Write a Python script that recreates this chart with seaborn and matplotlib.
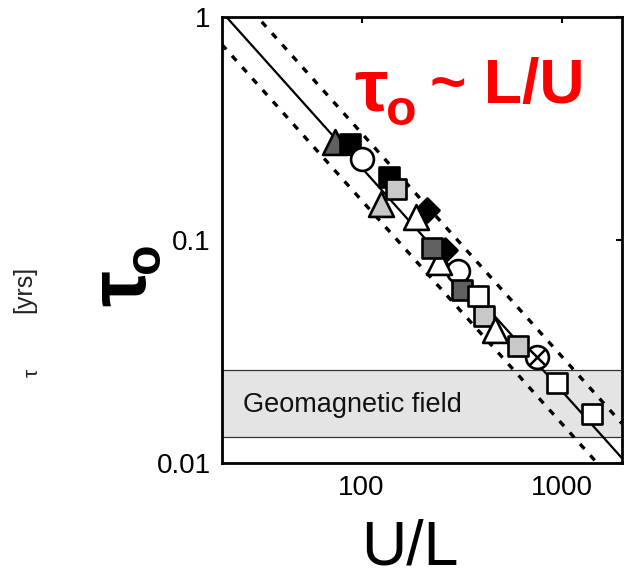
import matplotlib
matplotlib.use("Agg")
import matplotlib.pyplot as plt
import seaborn as sns
import numpy as np
import pandas as pd

# ---- data ----
ratio = [74, 88, 100, 137, 149, 125, 213, 188, 226, 260, 245, 303, 317, 381, 409, 465, 607, 757, 944, 1419]
tau = [0.273, 0.267, 0.229, 0.190, 0.168, 0.144, 0.136, 0.126, 0.092, 0.090, 0.079, 0.0726,
       0.0596, 0.0561, 0.0456, 0.0394, 0.0334, 0.0298, 0.0228, 0.0166]
shape = ["^", "s", "o", "s", "s", "^", "D", "^", "s", "D", "^", "o",
         "s", "s", "s", "^", "s", "o", "s", "s"]
fill = ["dark", "black", "white", "black", "light", "light", "black", "white", "dark", "black", "white", "white",
        "dark", "white", "light", "white", "light", "white", "white", "white"]
fit_coef = [21]          # tau = C / (U/L), solid
band_coef = [15, 30]     # dashed bounds
geo_band = [0.013, 0.026]
xticks = [100, 1000]
yticks = [0.01, 0.1, 1]
ytick_labels = ["0.01", "0.1", "1"]
xtick_labels = ["100", "1000"]

colors = {"dark": "#606060", "black": "#000000", "white": "#ffffff", "light": "#c8c8c8"}
sizes = {"s": 200, "o": 270, "^": 320, "D": 150}

df = pd.DataFrame({"ratio": ratio, "tau": tau, "shape": shape, "fill": fill})

sns.set_style("white")
plt.rcParams["font.family"] = ["Liberation Sans", "DejaVu Sans"]
plt.rcParams["text.color"] = "black"

fig = plt.figure(figsize=(6.3, 5.79), dpi=100)
ax = fig.add_axes([0.352, 0.2009, 0.635, 0.7706])
ax.set_xscale("log")
ax.set_yscale("log")
ax.set_xlim(20, 2000)
ax.set_ylim(0.01, 1)

# geomagnetic band
ax.axhspan(geo_band[0], geo_band[1], facecolor="#e4e4e4", edgecolor="none", zorder=0)
for v in geo_band:
    ax.axhline(v, color="#333333", lw=0.9, zorder=1)
ax.text(25.5, 0.0182, "Geomagnetic field", fontsize=19.5, color="#111111",
        va="center", ha="left", zorder=2)

# scaling lines
xl = np.array([20.0, 2000.0])
line_df = pd.DataFrame({"x": np.concatenate([xl, xl, xl]),
                        "y": np.concatenate([fit_coef[0] / xl, band_coef[0] / xl, band_coef[1] / xl]),
                        "kind": ["fit"] * 2 + ["lo"] * 2 + ["hi"] * 2})
sns.lineplot(data=line_df[line_df.kind == "fit"], x="x", y="y", color="black", lw=1.6, ax=ax, zorder=3)
for k in ["lo", "hi"]:
    sns.lineplot(data=line_df[line_df.kind == k], x="x", y="y", color="black", lw=2.4,
                 ax=ax, zorder=3, dashes=False, linestyle=(0, (2.0, 2.6)))

# markers
for (sh, fl), sub in df.groupby(["shape", "fill"], sort=False):
    sns.scatterplot(data=sub, x="ratio", y="tau", marker=sh, s=sizes[sh],
                    color=colors[fl], edgecolor="black", linewidth=1.9, ax=ax, zorder=4)
# cross inside the circle near 750
ax.scatter([757], [0.0298], marker="x", s=140, color="black", linewidths=1.8, zorder=5)

ax.set_xticks(xticks)
ax.set_xticklabels(xtick_labels)
ax.set_yticks(yticks)
ax.set_yticklabels(ytick_labels)
ax.minorticks_off()
ax.tick_params(which="major", direction="in", length=4, width=1.5, labelsize=20,
               top=True, right=True, pad=8, colors="black")
ax.tick_params(axis="x", pad=9)
for sp in ax.spines.values():
    sp.set_linewidth(2.0)
    sp.set_color("black")
    sp.set_visible(True)
ax.set_xlabel("")
ax.set_ylabel("")

# labels
fig.text(0.651, 0.002, "U/L", fontsize=45, ha="center", va="bottom", color="black")
fig.text(0.038, 1 - 289 / 579, "[yrs]", fontsize=18, rotation=90, ha="center", va="center", color="#222222")
fig.text(0.051, 1 - 373 / 579, "τ", fontsize=15, rotation=90, ha="center", va="center", color="#222222")
fig.text(124 / 630, 1 - 288 / 579, "τ", fontsize=58, fontweight="bold", rotation=90, ha="center", va="center",
         color="black")
fig.text(146 / 630, 1 - 258 / 579, "o", fontsize=36, fontweight="bold", rotation=90, ha="center", va="center",
         color="black")

# red annotation
fig.text(371 / 630, 1 - 91 / 579, "τ", fontsize=54, fontweight="bold", color="red", ha="center", va="center")
fig.text(401 / 630, 1 - 112 / 579, "o", fontsize=36, fontweight="bold", color="red", ha="center", va="center")
fig.text(430 / 630, 1 - 86 / 579, "~ L/U", fontsize=45, fontweight="bold", color="red", ha="left", va="center")

fig.savefig("out.png", dpi=100)
